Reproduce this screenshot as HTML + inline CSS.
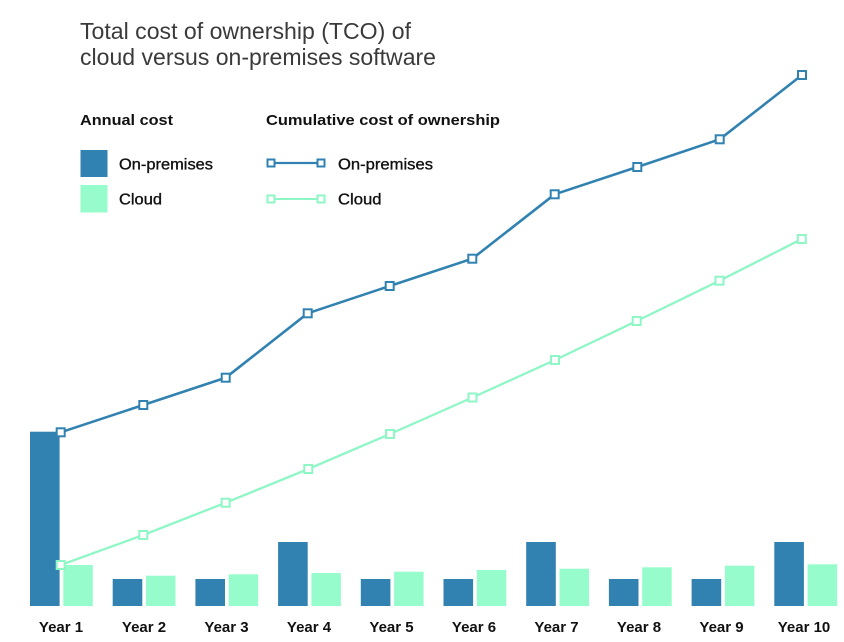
<!DOCTYPE html>
<html>
<head>
<meta charset="utf-8">
<style>
  html, body { margin: 0; padding: 0; background: #ffffff; }
  svg { display: block; }
  text { font-family: "Liberation Sans", sans-serif; }
</style>
</head>
<body>
<svg width="844" height="642" viewBox="0 0 844 642" xmlns="http://www.w3.org/2000/svg">
  <rect width="844" height="642" fill="#ffffff"/>

  <!-- Title -->
  <text x="80" y="39" font-size="23" fill="#3a3a3a" textLength="331" lengthAdjust="spacingAndGlyphs">Total cost of ownership (TCO) of</text>
  <text x="80" y="65" font-size="23" fill="#3a3a3a" textLength="356" lengthAdjust="spacingAndGlyphs">cloud versus on-premises software</text>

  <!-- Legend headings -->
  <text x="80" y="125" font-size="15" font-weight="bold" fill="#111" textLength="93" lengthAdjust="spacingAndGlyphs">Annual cost</text>
  <text x="266" y="125" font-size="15" font-weight="bold" fill="#111" textLength="234" lengthAdjust="spacingAndGlyphs">Cumulative cost of ownership</text>

  <!-- Annual legend -->
  <rect x="80.5" y="150" width="27" height="27" fill="#3182b1"/>
  <rect x="80.5" y="185" width="27" height="27.5" fill="#97fccb"/>
  <text x="119" y="169.5" font-size="15.5" fill="#111" stroke="#111" stroke-width="0.35" textLength="94" lengthAdjust="spacingAndGlyphs">On-premises</text>
  <text x="119" y="204.5" font-size="15.5" fill="#111" stroke="#111" stroke-width="0.35" textLength="43" lengthAdjust="spacingAndGlyphs">Cloud</text>

  <!-- Cumulative legend -->
  <line x1="271" y1="163" x2="321" y2="163" stroke="#3182b1" stroke-width="2.2"/>
  <rect x="267.5" y="159.5" width="7" height="7" fill="#fff" stroke="#3182b1" stroke-width="2"/>
  <rect x="317.5" y="159.5" width="7" height="7" fill="#fff" stroke="#3182b1" stroke-width="2"/>
  <line x1="271" y1="199" x2="321" y2="199" stroke="#8ff6c6" stroke-width="2"/>
  <rect x="267.5" y="195.5" width="7" height="7" fill="#fff" stroke="#8ff6c6" stroke-width="2"/>
  <rect x="317.5" y="195.5" width="7" height="7" fill="#fff" stroke="#8ff6c6" stroke-width="2"/>
  <text x="338" y="169.5" font-size="15.5" fill="#111" stroke="#111" stroke-width="0.35" textLength="95" lengthAdjust="spacingAndGlyphs">On-premises</text>
  <text x="338" y="204.5" font-size="15.5" fill="#111" stroke="#111" stroke-width="0.35" textLength="43.5" lengthAdjust="spacingAndGlyphs">Cloud</text>

  <!-- Bars: on-premises -->
  <g fill="#3182b1">
    <rect x="30" y="431.7" width="29.6" height="174.3"/>
    <rect x="112.7" y="579" width="29.6" height="27"/>
    <rect x="195.4" y="579" width="29.6" height="27"/>
    <rect x="278.1" y="542" width="29.6" height="64"/>
    <rect x="360.8" y="579" width="29.6" height="27"/>
    <rect x="443.5" y="579" width="29.6" height="27"/>
    <rect x="526.2" y="542" width="29.6" height="64"/>
    <rect x="608.9" y="579" width="29.6" height="27"/>
    <rect x="691.6" y="579" width="29.6" height="27"/>
    <rect x="774.3" y="542" width="29.6" height="64"/>
  </g>
  <!-- Bars: cloud -->
  <g fill="#97fccb">
    <rect x="63.3" y="565" width="29.5" height="41"/>
    <rect x="146" y="575.7" width="29.5" height="30.3"/>
    <rect x="228.7" y="574.3" width="29.5" height="31.7"/>
    <rect x="311.4" y="573" width="29.5" height="33"/>
    <rect x="394.1" y="571.7" width="29.5" height="34.3"/>
    <rect x="476.8" y="570" width="29.5" height="36"/>
    <rect x="559.5" y="568.7" width="29.5" height="37.3"/>
    <rect x="642.2" y="567.3" width="29.5" height="38.7"/>
    <rect x="724.9" y="565.7" width="29.5" height="40.3"/>
    <rect x="807.6" y="564.3" width="29.5" height="41.7"/>
  </g>

  <!-- Cumulative on-premises line -->
  <polyline fill="none" stroke="#3182b1" stroke-width="2.6" stroke-linejoin="round"
    points="60.7,432.3 143.3,405 225.7,377.7 307.7,313.3 389.7,286 472.3,258.7 554.7,194.3 637.3,167 719.7,139.3 802,75"/>
  <g fill="#fff" stroke="#3182b1" stroke-width="2">
    <rect x="56.7" y="428.3" width="8" height="8"/>
    <rect x="139.3" y="401" width="8" height="8"/>
    <rect x="221.7" y="373.7" width="8" height="8"/>
    <rect x="303.7" y="309.3" width="8" height="8"/>
    <rect x="385.7" y="282" width="8" height="8"/>
    <rect x="468.3" y="254.7" width="8" height="8"/>
    <rect x="550.7" y="190.3" width="8" height="8"/>
    <rect x="633.3" y="163" width="8" height="8"/>
    <rect x="715.7" y="135.3" width="8" height="8"/>
    <rect x="798" y="71" width="8" height="8"/>
  </g>

  <!-- Cumulative cloud line -->
  <polyline fill="none" stroke="#8ff6c6" stroke-width="2.3" stroke-linejoin="round"
    points="60.7,565 143.3,535 225.7,502.7 308.3,469 390,434 472.5,397.5 555,360 636.7,321 719.5,280.7 801.8,239"/>
  <g fill="#fff" stroke="#8ff6c6" stroke-width="2">
    <rect x="56.7" y="561" width="8" height="8"/>
    <rect x="139.3" y="531" width="8" height="8"/>
    <rect x="221.7" y="498.7" width="8" height="8"/>
    <rect x="304.3" y="465" width="8" height="8"/>
    <rect x="386" y="430" width="8" height="8"/>
    <rect x="468.5" y="393.5" width="8" height="8"/>
    <rect x="551" y="356" width="8" height="8"/>
    <rect x="632.7" y="317" width="8" height="8"/>
    <rect x="715.5" y="276.7" width="8" height="8"/>
    <rect x="797.8" y="235" width="8" height="8"/>
  </g>

  <!-- X-axis labels -->
  <g font-size="15" font-weight="bold" fill="#111" text-anchor="middle">
    <text x="61" y="632">Year 1</text>
    <text x="144" y="632">Year 2</text>
    <text x="226.5" y="632">Year 3</text>
    <text x="309" y="632">Year 4</text>
    <text x="391.5" y="632">Year 5</text>
    <text x="474" y="632">Year 6</text>
    <text x="556.5" y="632">Year 7</text>
    <text x="639" y="632">Year 8</text>
    <text x="721.5" y="632">Year 9</text>
    <text x="804" y="632">Year 10</text>
  </g>
</svg>
</body>
</html>
